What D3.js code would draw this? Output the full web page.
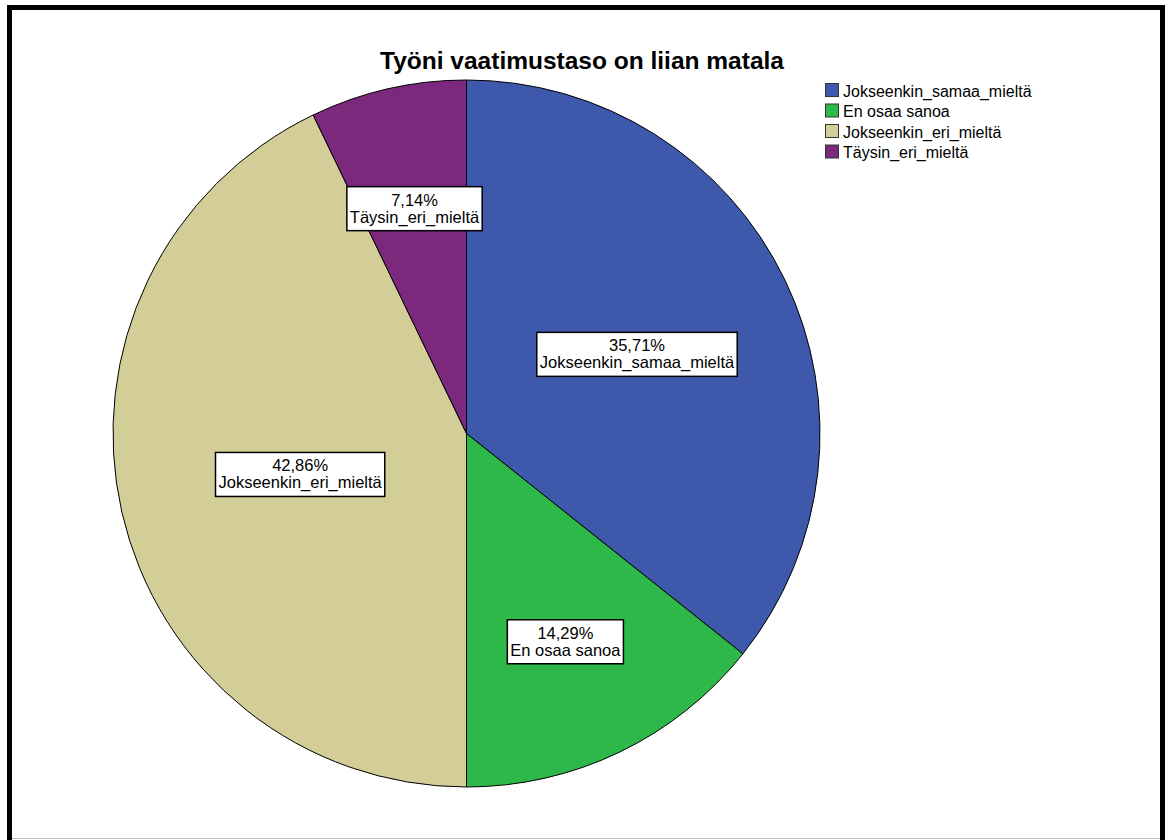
<!DOCTYPE html>
<html>
<head>
<meta charset="utf-8">
<script src="https://cdn.jsdelivr.net/npm/d3@7"></script>
<style>
  html, body { margin: 0; padding: 0; background: #fff; }
  svg { display: block; }
  text { font-family: "Liberation Sans", Arial, sans-serif; fill: #000; }
</style>
</head>
<body>
<svg id="chart" width="1169" height="840"></svg>
<script>
// Response categories, in drawing order (clockwise from 12 o'clock)
const categories = ["Jokseenkin_samaa_mieltä", "En osaa sanoa", "Jokseenkin_eri_mieltä", "Täysin_eri_mieltä"];
// Share of respondents, percent
const percents = [35.71, 14.29, 42.86, 7.14];
// Percent labels as printed on the slices
const percentLabels = ["35,71%", "14,29%", "42,86%", "7,14%"];
const sliceColors = ["#3e58ac", "#2eb84a", "#d3ce97", "#7c297d"];
const title = "Työni vaatimustaso on liian matala";

const svg = d3.select("#chart");

// Outer frame
svg.append("rect")
  .attr("x", 9.5).attr("y", 7.5)
  .attr("width", 1153).attr("height", 900)
  .attr("fill", "#fff").attr("stroke", "#000").attr("stroke-width", 5);
svg.append("line")
  .attr("x1", 12).attr("x2", 1160).attr("y1", 838.5).attr("y2", 838.5)
  .attr("stroke", "#bdbdbd").attr("stroke-width", 1);

// Title
svg.append("text")
  .attr("x", 582).attr("y", 69)
  .attr("text-anchor", "middle")
  .style("font-size", "24.5px").style("font-weight", "bold")
  .text(title);

// Pie
const cx = 466.5, cy = 433.5, R = 353.5;
const color = d3.scaleOrdinal().domain(categories).range(sliceColors);
const pie = d3.pie().value(d => d.value).sort(null);
const arc = d3.arc().innerRadius(0).outerRadius(R);

const data = categories.map((c, i) => ({ cat: c, value: percents[i], label: percentLabels[i] }));
const arcs = pie(data);

const g = svg.append("g").attr("transform", `translate(${cx},${cy})`);
g.selectAll("path.slice")
  .data(arcs)
  .join("path")
  .attr("class", "slice")
  .attr("d", arc)
  .attr("fill", d => color(d.data.cat))
  .attr("stroke", "#000")
  .attr("stroke-width", 1);

// Labels sit at the geometric centroid of each sector
function sectorCentroid(d) {
  const half = (d.endAngle - d.startAngle) / 2;
  const mid = d.startAngle + half;
  const dist = (2 * R * Math.sin(half)) / (3 * half);
  return [Math.sin(mid) * dist, -Math.cos(mid) * dist];
}

const lineGap = 17;
const labels = g.selectAll("g.lbl")
  .data(arcs)
  .join("g")
  .attr("class", "lbl")
  .attr("transform", d => { const p = sectorCentroid(d); return `translate(${p[0]},${p[1] + 3})`; });

labels.each(function(d) {
  const sel = d3.select(this);
  const box = sel.append("rect")
    .attr("fill", "#fff").attr("stroke", "#000").attr("stroke-width", 1.5);
  const t1 = sel.append("text").attr("text-anchor", "middle")
    .attr("y", -3).style("font-size", "16.5px").text(d.data.label);
  const t2 = sel.append("text").attr("text-anchor", "middle")
    .attr("y", -3 + lineGap).style("font-size", "16.5px").text(d.data.cat);
  const w = Math.max(t1.node().getComputedTextLength(), t2.node().getComputedTextLength()) + 6;
  const h = 44;
  box.attr("x", -w / 2).attr("y", -22).attr("width", w).attr("height", h);
});

// Legend
const legend = svg.append("g").attr("transform", "translate(825,83)");
const rows = legend.selectAll("g")
  .data(categories)
  .join("g")
  .attr("transform", (d, i) => `translate(0,${i * 20.5})`);
rows.append("rect")
  .attr("x", 0.5).attr("y", 0.5).attr("width", 13).attr("height", 13)
  .attr("fill", d => color(d)).attr("stroke", "#333").attr("stroke-width", 1);
rows.append("text")
  .attr("x", 18).attr("y", 13.5)
  .style("font-size", "16px")
  .text(d => d);
</script>
</body>
</html>
